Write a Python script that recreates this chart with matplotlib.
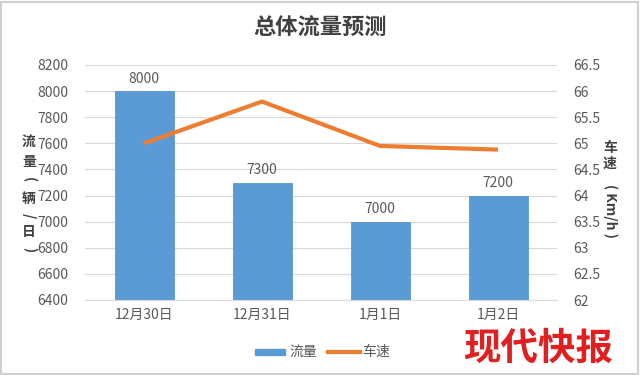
import matplotlib
matplotlib.use("Agg")
import matplotlib.pyplot as plt
from matplotlib.patches import Rectangle

plt.rcParams['font.family'] = ['Noto Sans CJK SC', 'DejaVu Sans']

categories = ["12月30日", "12月31日", "1月1日", "1月2日"]
flow = [8000, 7300, 7000, 7200]
speed = [65.0, 65.8, 64.95, 64.88]
left_ticks = [6400, 6600, 6800, 7000, 7200, 7400, 7600, 7800, 8000, 8200]
right_ticks = [62, 62.5, 63, 63.5, 64, 64.5, 65, 65.5, 66, 66.5]
right_labels = ["62", "62.5", "63", "63.5", "64", "64.5", "65", "65.5", "66", "66.5"]

W, H = 640, 375
fig = plt.figure(figsize=(W / 100, H / 100), dpi=100)
ax = fig.add_axes([85 / W, 1 - 300 / H, 472 / W, 235 / H])
ax2 = ax.twinx()

tc = "#595959"
x = range(len(categories))
ax.bar(x, flow, width=0.5, color="#5B9BD5", edgecolor="#4A8BCB", linewidth=0.5, zorder=2)
for i, v in enumerate(flow):
    ax.text(i, v + 40, str(v), ha="center", va="bottom", fontsize=10, color=tc)
ax.set_ylim(6400, 8200)
ax.set_yticks(left_ticks)
ax.set_xlim(-0.5, len(categories) - 0.5)
ax.set_xticks(list(x))
ax.set_xticklabels(categories)
ax.grid(axis="y", color="#D9D9D9", linewidth=0.8, zorder=0)
ax.set_axisbelow(True)

ax2.plot(list(x), speed, color="#ED7D31", linewidth=3, solid_capstyle="butt", zorder=3)
ax2.set_ylim(62, 66.5)
ax2.set_yticks(right_ticks)
ax2.set_yticklabels(right_labels)

for a in (ax, ax2):
    for s in a.spines.values():
        s.set_visible(False)
    a.tick_params(length=0, labelsize=10, labelcolor=tc)
ax.spines["bottom"].set_visible(True)
ax.spines["bottom"].set_color("#D9D9D9")
ax.tick_params(axis="y", pad=12)
ax2.tick_params(axis="y", pad=12)
ax.tick_params(axis="x", pad=6)

fig.text(0.5, 1 - 28 / H, "总体流量预测", ha="center", va="center",
         fontsize=16, fontweight="bold", color="#404040")

lab = "#404040"
# left axis title, stacked vertically
left_chars = [("流", 0, 143), ("量", 0, 162), ("(", -90, 180), ("辆", 0, 199),
              ("/", -90, 216), ("日", 0, 232), (")", -90, 250)]
for ch, rot, yy in left_chars:
    fig.text(29 / W, 1 - yy / H, ch, ha="center", va="center", fontsize=10,
             color=lab, rotation=rot, fontweight="bold")
fig.text(610 / W, 1 - 148 / H, "车", ha="center", va="center",
         fontsize=10, color=lab, fontweight="bold")
fig.text(610 / W, 1 - 164 / H, "速", ha="center", va="center",
         fontsize=10, color=lab, fontweight="bold")
fig.text(610 / W, 1 - 211 / H, "( Km/h )", ha="center", va="center",
         fontsize=10, color=lab, rotation=-90, fontweight="bold")

# legend
fig.patches.append(Rectangle((255 / W, 1 - 355 / H), 30 / W, 6 / H,
                             transform=fig.transFigure, color="#5B9BD5"))
fig.text(289 / W, 1 - 352 / H, "流量", ha="left", va="center", fontsize=10, color=tc)
fig.lines.append(plt.Line2D([328 / W, 360 / W], [1 - 352 / H, 1 - 352 / H],
                            transform=fig.transFigure, color="#ED7D31", linewidth=3))
fig.text(362 / W, 1 - 352 / H, "车速", ha="left", va="center", fontsize=10, color=tc)

# watermark
fig.text(538 / W, 1 - 348 / H, "现代快报", ha="center", va="center",
         fontsize=27, fontweight="heavy", color="#E02020", style="italic")

fig.patches.append(Rectangle((1 / W, 1 / H), 1 - 3 / W, 1 - 3 / H, transform=fig.transFigure,
                             fill=False, edgecolor="#D0D0D0", linewidth=1.5))

fig.savefig("out.png", dpi=100)
